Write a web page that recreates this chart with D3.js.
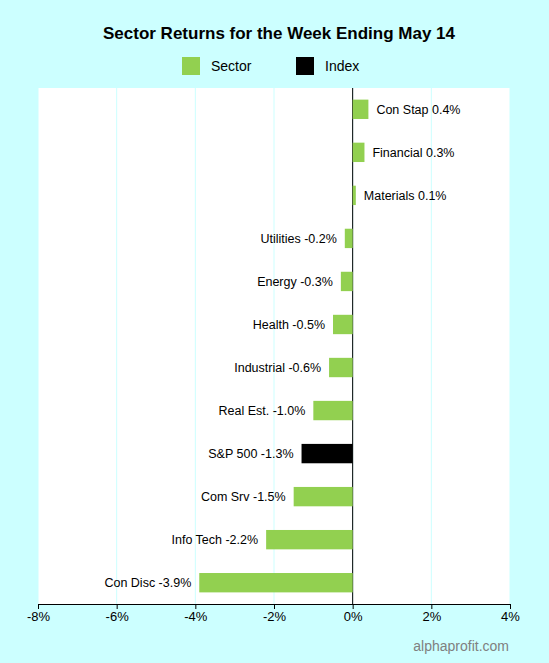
<!DOCTYPE html>
<html><head><meta charset="utf-8">
<script src="https://cdn.jsdelivr.net/npm/d3@7"></script>
<style>body{margin:0;background:#ccffff;font-family:"Liberation Sans",Arial,sans-serif}</style>
</head><body><svg id="c" width="549" height="663"></svg>
<script>
const categories=["Con Stap","Financial","Materials","Utilities","Energy","Health","Industrial","Real Est.","S&P 500","Com Srv","Info Tech","Con Disc"];
const values=[0.4,0.3,0.08,-0.2,-0.3,-0.5,-0.6,-1.0,-1.3,-1.5,-2.2,-3.9];
const labels=["0.4%","0.3%","0.1%","-0.2%","-0.3%","-0.5%","-0.6%","-1.0%","-1.3%","-1.5%","-2.2%","-3.9%"];
const types=["Sector","Sector","Sector","Sector","Sector","Sector","Sector","Sector","Index","Sector","Sector","Sector"];
const ticks=[-8,-6,-4,-2,0,2,4];
const colors={Sector:"#92d050",Index:"#000000"};
const svg=d3.select("#c");
svg.append("rect").attr("width",549).attr("height",663).attr("fill","#ccffff");
const L=38,R=510,T=88,B=604;
const x=d3.scaleLinear().domain([-8,4]).range([L,R]);
const y=d3.scaleBand().domain(categories).range([T,B]).paddingInner(0.55).paddingOuter(0.27);
svg.append("rect").attr("x",L).attr("y",T).attr("width",R-L).attr("height",B-T).attr("fill","#fff");
svg.selectAll(".g").data(ticks).enter().append("line").attr("x1",d=>x(d)).attr("x2",d=>x(d)).attr("y1",T).attr("y2",B).attr("stroke","#ccffff");
svg.append("line").attr("x1",x(0)).attr("x2",x(0)).attr("y1",T).attr("y2",B).attr("stroke","#000");
const ax=svg.append("g").attr("transform",`translate(0,${B})`).call(d3.axisBottom(x).tickValues(ticks).tickFormat(d=>d+"%").tickSizeOuter(0).tickSize(5));
ax.selectAll("text").attr("font-size",13).attr("fill","#000").attr("font-family","Liberation Sans, Arial");
ax.select(".domain").attr("stroke","#000");
svg.selectAll(".b").data(categories).enter().append("rect")
 .attr("x",(d,i)=>x(Math.min(0,values[i]))).attr("width",(d,i)=>Math.abs(x(values[i])-x(0)))
 .attr("y",d=>y(d)).attr("height",y.bandwidth()).attr("fill",(d,i)=>colors[types[i]]);
svg.selectAll(".l").data(categories).enter().append("text")
 .attr("x",(d,i)=>values[i]>=0?x(values[i])+8:x(values[i])-8)
 .attr("y",d=>y(d)+y.bandwidth()/2).attr("dy","0.35em")
 .attr("text-anchor",(d,i)=>values[i]>=0?"start":"end").attr("font-size",12.5)
 .text((d,i)=>d+" "+labels[i]);
svg.append("text").attr("x",279).attr("y",39).attr("text-anchor","middle").attr("font-weight","bold").attr("font-size",17).text("Sector Returns for the Week Ending May 14");
const leg=[["Sector",182],["Index",296]];
leg.forEach(([k,px])=>{svg.append("rect").attr("x",px).attr("y",57).attr("width",18).attr("height",18).attr("fill",colors[k]);
 svg.append("text").attr("x",px+29).attr("y",71).attr("font-size",14).text(k);});
svg.append("text").attr("x",509).attr("y",651).attr("text-anchor","end").attr("font-size",14).attr("fill","#808080").text("alphaprofit.com");
</script></body></html>
